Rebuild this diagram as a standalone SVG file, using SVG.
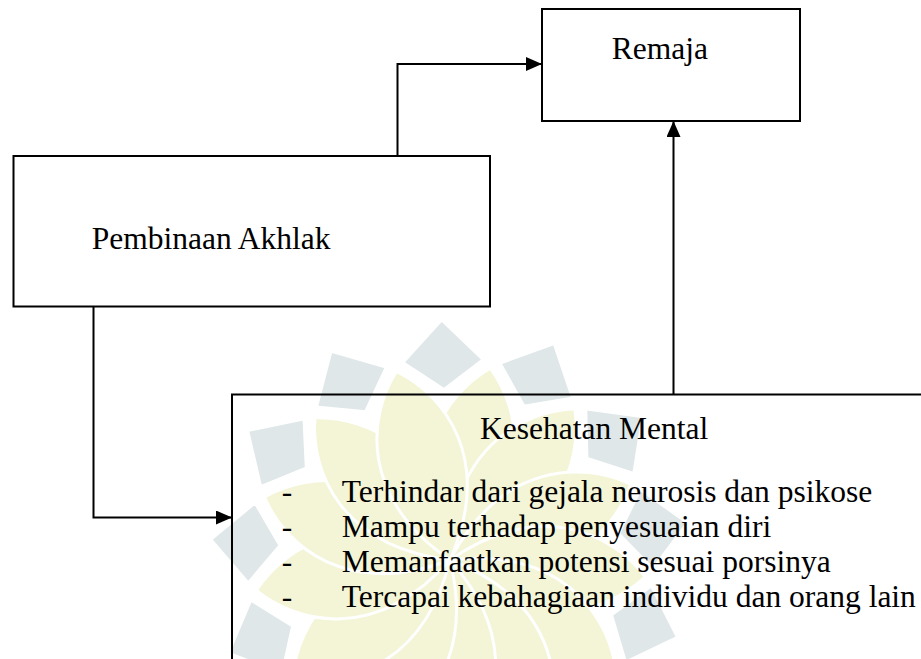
<svg xmlns="http://www.w3.org/2000/svg" xmlns:xlink="http://www.w3.org/1999/xlink" width="921" height="659" viewBox="0 0 921 659">
<style>
.box{fill:#ffffff;stroke:#000000;stroke-width:2}
.open{fill:none;stroke:#000000;stroke-width:2}
.conn{fill:none;stroke:#000000;stroke-width:2}
.t{font-family:"Liberation Serif","Times New Roman",serif;font-size:31.5px;fill:#000000}
.kite{fill:#dfe7e9;stroke:#ffffff;stroke-width:4;stroke-linejoin:round}
.leaf{fill:#f3f5d6;stroke:#ffffff;stroke-width:3}
</style>
<defs>
<marker id="arr" markerUnits="userSpaceOnUse" markerWidth="16" markerHeight="14" refX="16" refY="7" orient="auto">
<path d="M0,0 L16,7 L0,14 Z" fill="#000000"/>
</marker>
<path id="kite" d="M450,319 L491,361 L450,390 L409,361 Z"/>
<path id="leaf" d="M450,364 C490,400 520,475 450,560 C380,475 410,400 450,364 Z"/>
</defs>
<rect width="921" height="659" fill="#ffffff"/>
<g id="watermark" transform="rotate(-2 450 560)">
<g class="leaf">
<use xlink:href="#leaf" transform="rotate(13.85 450 560)"/>
<use xlink:href="#leaf" transform="rotate(41.54 450 560)"/>
<use xlink:href="#leaf" transform="rotate(69.23 450 560)"/>
<use xlink:href="#leaf" transform="rotate(96.92 450 560)"/>
<use xlink:href="#leaf" transform="rotate(124.62 450 560)"/>
<use xlink:href="#leaf" transform="rotate(152.31 450 560)"/>
<use xlink:href="#leaf" transform="rotate(180 450 560)"/>
<use xlink:href="#leaf" transform="rotate(207.69 450 560)"/>
<use xlink:href="#leaf" transform="rotate(235.38 450 560)"/>
<use xlink:href="#leaf" transform="rotate(263.08 450 560)"/>
<use xlink:href="#leaf" transform="rotate(290.77 450 560)"/>
<use xlink:href="#leaf" transform="rotate(318.46 450 560)"/>
<use xlink:href="#leaf" transform="rotate(346.15 450 560)"/>
</g>
<g class="kite">
<use xlink:href="#kite"/>
<use xlink:href="#kite" transform="rotate(27.69 450 560)"/>
<use xlink:href="#kite" transform="rotate(55.38 450 560)"/>
<use xlink:href="#kite" transform="rotate(83.08 450 560)"/>
<use xlink:href="#kite" transform="rotate(110.77 450 560)"/>
<use xlink:href="#kite" transform="rotate(138.46 450 560)"/>
<use xlink:href="#kite" transform="rotate(166.15 450 560)"/>
<use xlink:href="#kite" transform="rotate(193.85 450 560)"/>
<use xlink:href="#kite" transform="rotate(221.54 450 560)"/>
<use xlink:href="#kite" transform="rotate(249.23 450 560)"/>
<use xlink:href="#kite" transform="rotate(276.92 450 560)"/>
<use xlink:href="#kite" transform="rotate(304.62 450 560)"/>
<use xlink:href="#kite" transform="rotate(332.31 450 560)"/>
</g>
</g>
<g id="connectors">
<path class="conn" d="M253,156 H397.5 V64 H542" marker-end="url(#arr)"/>
<path class="conn" d="M93.5,307 V517.5 H232" marker-end="url(#arr)"/>
<path class="conn" d="M673.5,394.5 V121" marker-end="url(#arr)"/>
</g>
<g id="remaja">
<rect class="box" x="542" y="9" width="258" height="112"/>
<text class="t" x="611.7" y="59.3">Remaja</text>
</g>
<g id="pembinaan-akhlak">
<rect class="box" x="13.5" y="156" width="476.5" height="150.5"/>
<text class="t" x="91.7" y="249">Pembinaan Akhlak</text>
</g>
<g id="kesehatan-mental">
<rect class="open" x="232" y="394.5" width="720" height="300"/>
<text class="t" x="480" y="439">Kesehatan Mental</text>
<text class="t" x="281.7" y="502">-</text>
<text class="t" x="341.7" y="502">Terhindar dari gejala neurosis dan psikose</text>
<text class="t" x="281.7" y="537">-</text>
<text class="t" x="341.7" y="537">Mampu terhadap penyesuaian diri</text>
<text class="t" x="281.7" y="572">-</text>
<text class="t" x="341.7" y="572">Memanfaatkan potensi sesuai porsinya</text>
<text class="t" x="281.7" y="607">-</text>
<text class="t" x="341.7" y="607">Tercapai kebahagiaan individu dan orang lain</text>
</g>
</svg>
